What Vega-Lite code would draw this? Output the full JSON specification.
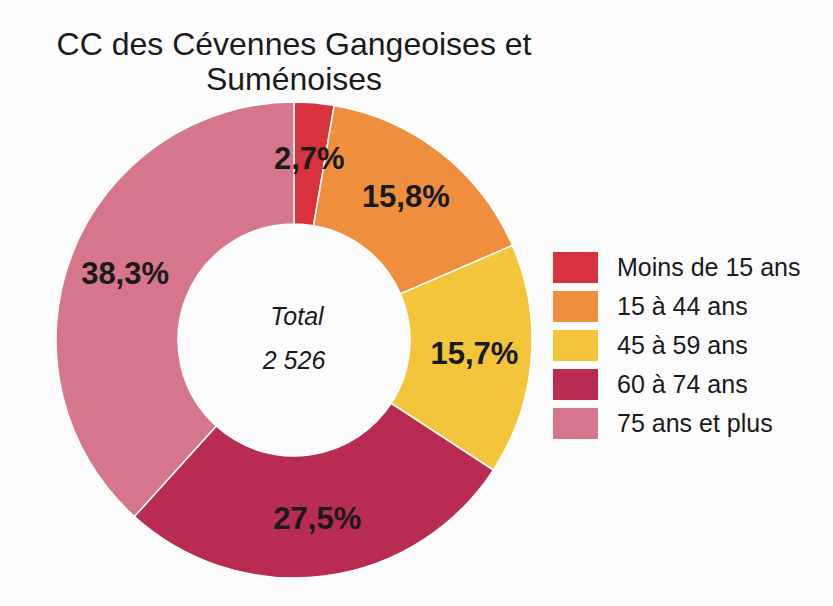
{
  "$schema": "https://vega.github.io/schema/vega-lite/v6.json",
  "autosize": "none",
  "width": 480,
  "height": 480,
  "padding": {"left": 54, "top": 100, "right": 299, "bottom": 26},
  "background": "#fcfcfd",
  "view": {"stroke": null},
  "title": {
    "text": ["CC des Cévennes Gangeoises et", "Suménoises"],
    "anchor": "middle",
    "font": "Liberation Sans",
    "fontSize": 32,
    "fontWeight": "normal",
    "color": "#1b1b1b",
    "lineHeight": 35,
    "offset": 2
  },
  "data": {
    "values": [
      {"rank": 1, "groupe": "Moins de 15 ans", "pct": 2.7, "label": "2,7%"},
      {"rank": 2, "groupe": "15 à 44 ans", "pct": 15.8, "label": "15,8%"},
      {"rank": 3, "groupe": "45 à 59 ans", "pct": 15.7, "label": "15,7%"},
      {"rank": 4, "groupe": "60 à 74 ans", "pct": 27.5, "label": "27,5%"},
      {"rank": 5, "groupe": "75 ans et plus", "pct": 38.3, "label": "38,3%"}
    ]
  },
  "layer": [
    {
      "mark": {"type": "arc", "outerRadius": 238, "innerRadius": 116, "stroke": "#ffffff", "strokeWidth": 1.5},
      "encoding": {
        "theta": {"field": "pct", "type": "quantitative", "stack": true},
        "order": {"field": "rank"},
        "color": {
          "field": "groupe",
          "type": "nominal",
          "sort": null,
          "scale": {
            "domain": ["Moins de 15 ans", "15 à 44 ans", "45 à 59 ans", "60 à 74 ans", "75 ans et plus"],
            "range": ["#d8323d", "#ef8f3d", "#f3c53a", "#b92c52", "#d6768a"]
          },
          "legend": {
            "title": null,
            "orient": "none",
            "legendX": 499,
            "legendY": 145,
            "padding": 0,
            "symbolType": "M-1,-0.69H1V0.69H-1Z",
            "symbolSize": 2025,
            "symbolStrokeWidth": 0,
            "symbolOpacity": 1,
            "labelFont": "Liberation Sans",
            "labelFontSize": 25,
            "labelColor": "#1a1a1a",
            "labelOffset": 19,
            "labelLimit": 300,
            "rowPadding": -7
          }
        }
      }
    },
    {
      "mark": {"type": "text", "radius": 181, "font": "Liberation Sans", "fontSize": 31, "fontWeight": "bold", "color": "#1a1a1a"},
      "encoding": {
        "theta": {"field": "pct", "type": "quantitative", "stack": true},
        "order": {"field": "rank"},
        "text": {"field": "label", "type": "nominal"}
      }
    },
    {
      "data": {"values": [{"caption": "Total"}]},
      "mark": {"type": "text", "font": "Liberation Sans", "fontSize": 25, "fontStyle": "italic", "color": "#1a1a1a", "dy": -23, "dx": 3},
      "encoding": {"text": {"field": "caption", "type": "nominal"}}
    },
    {
      "data": {"values": [{"caption": "2 526"}]},
      "mark": {"type": "text", "font": "Liberation Sans", "fontSize": 25, "fontStyle": "italic", "color": "#1a1a1a", "dy": 21},
      "encoding": {"text": {"field": "caption", "type": "nominal"}}
    }
  ]
}
